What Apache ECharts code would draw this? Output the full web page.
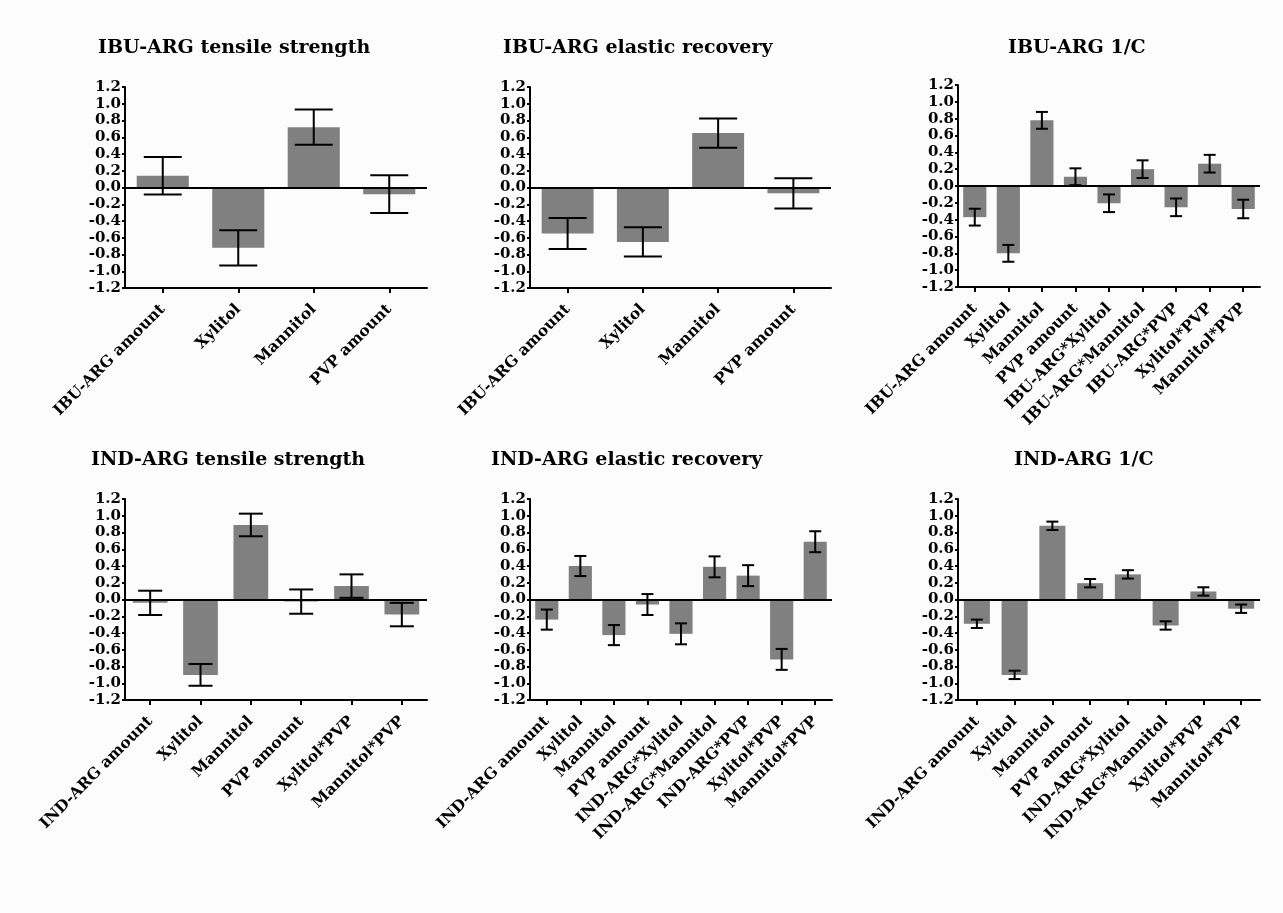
<!DOCTYPE html>
<html>
<head>
<meta charset="utf-8">
<script src="https://cdn.jsdelivr.net/npm/echarts@6/dist/echarts.min.js"></script>
<style>
html,body{margin:0;padding:0;background:#fcfcfc;}
#main{width:1283px;height:913px;}
</style>
</head>
<body>
<div id="main"></div>
<script>
// ---- data ----
const titles = ["IBU-ARG tensile strength", "IBU-ARG elastic recovery", "IBU-ARG 1/C",
                "IND-ARG tensile strength", "IND-ARG elastic recovery", "IND-ARG 1/C"];

const ibuTsCats = ["IBU-ARG amount", "Xylitol", "Mannitol", "PVP amount"];
const ibuTsVals = [0.14, -0.72, 0.72, -0.08];
const ibuTsErr  = [0.225, 0.21, 0.21, 0.225];

const ibuErCats = ["IBU-ARG amount", "Xylitol", "Mannitol", "PVP amount"];
const ibuErVals = [-0.55, -0.65, 0.65, -0.07];
const ibuErErr  = [0.185, 0.175, 0.175, 0.18];

const ibuCCats = ["IBU-ARG amount", "Xylitol", "Mannitol", "PVP amount", "IBU-ARG*Xylitol",
                  "IBU-ARG*Mannitol", "IBU-ARG*PVP", "Xylitol*PVP", "Mannitol*PVP"];
const ibuCVals = [-0.37, -0.80, 0.78, 0.11, -0.205, 0.20, -0.253, 0.265, -0.273];
const ibuCErr  = [0.10, 0.10, 0.10, 0.10, 0.105, 0.105, 0.105, 0.105, 0.11];

const indTsCats = ["IND-ARG amount", "Xylitol", "Mannitol", "PVP amount", "Xylitol*PVP", "Mannitol*PVP"];
const indTsVals = [-0.04, -0.90, 0.89, -0.025, 0.16, -0.18];
const indTsErr  = [0.145, 0.13, 0.135, 0.145, 0.14, 0.14];

const indErCats = ["IND-ARG amount", "Xylitol", "Mannitol", "PVP amount", "IND-ARG*Xylitol",
                   "IND-ARG*Mannitol", "IND-ARG*PVP", "Xylitol*PVP", "Mannitol*PVP"];
const indErVals = [-0.24, 0.40, -0.425, -0.06, -0.41, 0.39, 0.285, -0.715, 0.69];
const indErErr  = [0.12, 0.12, 0.12, 0.125, 0.125, 0.125, 0.125, 0.125, 0.125];

const indCCats = ["IND-ARG amount", "Xylitol", "Mannitol", "PVP amount", "IND-ARG*Xylitol",
                  "IND-ARG*Mannitol", "Xylitol*PVP", "Mannitol*PVP"];
const indCVals = [-0.29, -0.90, 0.88, 0.195, 0.30, -0.31, 0.096, -0.11];
const indCErr  = [0.05, 0.05, 0.05, 0.05, 0.05, 0.05, 0.05, 0.05];

const yMin = -1.2, yMax = 1.2, yStep = 0.2;

// ---- layout / style ----
const panels = [
  {cats: ibuTsCats, vals: ibuTsVals, err: ibuTsErr, left: 125, top: 87, w: 302, h: 201, cap: 19, tx: 98,  ty: 39},
  {cats: ibuErCats, vals: ibuErVals, err: ibuErErr, left: 530, top: 87, w: 301, h: 201, cap: 19, tx: 503, ty: 39},
  {cats: ibuCCats,  vals: ibuCVals,  err: ibuCErr,  left: 958, top: 85, w: 302, h: 202, cap: 6,  tx: 1008, ty: 39},
  {cats: indTsCats, vals: indTsVals, err: indTsErr, left: 125, top: 499, w: 302, h: 201, cap: 12, tx: 91,  ty: 451},
  {cats: indErCats, vals: indErVals, err: indErErr, left: 530, top: 499, w: 302, h: 201, cap: 6,  tx: 491, ty: 451},
  {cats: indCCats,  vals: indCVals,  err: indCErr,  left: 958, top: 499, w: 302, h: 201, cap: 6,  tx: 1014, ty: 451}
];

const FONT = "DejaVu Serif";
const chart = echarts.init(document.getElementById('main'), null, {renderer: 'canvas'});

const option = {
  backgroundColor: '#fcfcfc',
  animation: false,
  title: [], grid: [], xAxis: [], yAxis: [], series: []
};

panels.forEach((p, i) => {
  option.title.push({
    text: titles[i], left: p.tx, top: p.ty, padding: 0,
    textStyle: {fontFamily: FONT, fontWeight: 'bold', fontSize: 19, color: '#000'}
  });
  option.grid.push({left: p.left, top: p.top, width: p.w, height: p.h, containLabel: false});
  option.xAxis.push({
    type: 'category', gridIndex: i, data: p.cats,
    axisLine: {onZero: false, lineStyle: {color: '#000', width: 2}},
    axisTick: {show: true, alignWithLabel: true, length: 5, lineStyle: {color: '#000', width: 2}},
    axisLabel: {rotate: 45, interval: 0, margin: 19, fontFamily: FONT, fontWeight: 'bold',
                fontSize: 15.5, color: '#000'},
    splitLine: {show: false}
  });
  option.yAxis.push({
    type: 'value', gridIndex: i, min: yMin, max: yMax, interval: yStep,
    axisLine: {show: true, lineStyle: {color: '#000', width: 2}},
    axisTick: {show: true, length: 3, lineStyle: {color: '#000', width: 2}},
    axisLabel: {margin: 4, fontFamily: FONT, fontWeight: 'bold', fontSize: 15, color: '#000',
                formatter: v => (Math.abs(v) < 1e-9 ? 0 : v).toFixed(1)},
    splitLine: {show: false}
  });
  option.series.push({
    type: 'bar', xAxisIndex: i, yAxisIndex: i, data: p.vals,
    barCategoryGap: '31%',
    itemStyle: {color: '#808080'},
    markLine: {
      silent: true, symbol: ['none', 'none'], label: {show: false},
      lineStyle: {color: '#000', width: 2, type: 'solid'},
      data: [{yAxis: 0}]
    }
  });
  const capHalf = p.cap;
  option.series.push({
    type: 'custom', xAxisIndex: i, yAxisIndex: i, z: 5,
    data: p.vals.map((v, k) => [k, v - p.err[k], v + p.err[k]]),
    renderItem: (params, api) => {
      const lo = api.coord([api.value(0), api.value(1)]);
      const hi = api.coord([api.value(0), api.value(2)]);
      const st = {stroke: '#000', lineWidth: 2};
      return {
        type: 'group',
        children: [
          {type: 'line', shape: {x1: lo[0], y1: lo[1], x2: hi[0], y2: hi[1]}, style: st},
          {type: 'line', shape: {x1: lo[0] - capHalf, y1: lo[1], x2: lo[0] + capHalf, y2: lo[1]}, style: st},
          {type: 'line', shape: {x1: hi[0] - capHalf, y1: hi[1], x2: hi[0] + capHalf, y2: hi[1]}, style: st}
        ]
      };
    }
  });
});

chart.setOption(option);
</script>
</body>
</html>
